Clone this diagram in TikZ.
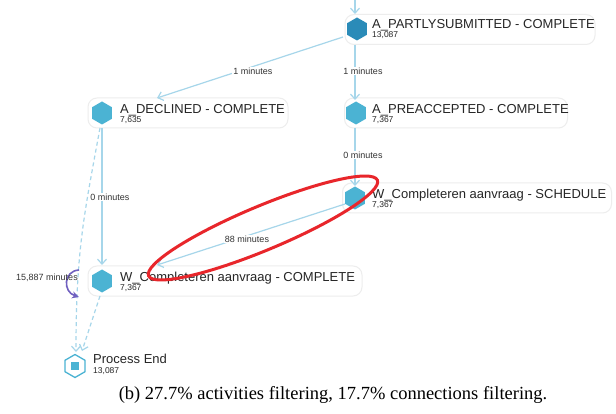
\documentclass[tikz,border=0pt]{standalone}
\usepackage{fontspec}
\setmainfont{Liberation Serif}
\newfontfamily\arialf{Liberation Sans}
\usetikzlibrary{shapes.geometric,arrows.meta}
\definecolor{edgeblue}{HTML}{A6D6EA}
\definecolor{hexblue}{HTML}{4BB3D3}
\definecolor{hexdark}{HTML}{2A8BB8}
\definecolor{loopviolet}{HTML}{7060C0}
\definecolor{markred}{HTML}{E8262B}
\begin{document}
\begin{tikzpicture}[x=1pt,y=-1pt,
  card/.style={draw=black!7, line width=1pt, fill=white, rounded corners=9pt, minimum height=30pt, inner sep=0pt},
  hexa/.style={regular polygon, regular polygon sides=6, shape border rotate=30, fill=hexblue, minimum size=23pt, inner sep=0pt},
  title/.style={anchor=base west, inner sep=0pt, font=\arialf\fontsize{13}{13}\selectfont, text=black!85},
  count/.style={anchor=base west, inner sep=0pt, font=\arialf\fontsize{8.5}{8.5}\selectfont, text=black!85},
  elabel/.style={inner sep=1pt, fill=white, font=\arialf\fontsize{9}{9}\selectfont, text=black!80},
  flow/.style={draw=edgeblue, line width=1.2pt, -{Straight Barb[length=5pt,width=9pt]}},
  dflow/.style={flow, dashed, dash pattern=on 4pt off 3pt},
]
\useasboundingbox[fill=white] (0,0) rectangle (616,414);

% cards
\node[card, minimum width=250pt] (psbox) at (470,29.5) {};
\node[card, minimum width=200pt] (decbox) at (188,113) {};
\node[card, minimum width=223pt] (prebox) at (456,113) {};
\node[card, minimum width=269pt] (schbox) at (477,198) {};
\node[card, minimum width=274pt] (wcobox) at (225,281) {};

% hexagons
\node[hexa, fill=hexdark] (ps) at (357,29) {};
\node[hexa] (dec) at (102,113) {};
\node[hexa] (pre) at (356,113) {};
\node[hexa] (sch) at (355,198) {};
\node[hexa] (wco) at (102,281) {};
\node[hexa, fill=white, draw=hexblue, line width=1.3pt, minimum size=23pt] (pend) at (75,366) {};
\node[fill=hexblue, minimum size=8pt, inner sep=0pt] (pendsq) at (75,366) {};

% texts
\node[title] (pst) at (372,29) {A\_PARTLYSUBMITTED - COMPLETE};
\node[count] (psc) at (372,37.5) {13,087};
\node[title] (dect) at (120,114) {A\_DECLINED - COMPLETE};
\node[count] (decc) at (120,122.5) {7,635};
\node[title] (pret) at (372,114) {A\_PREACCEPTED - COMPLETE};
\node[count] (prec) at (372,122.5) {7,367};
\node[title] (scht) at (372,199) {W\_Completeren aanvraag - SCHEDULE};
\node[count] (schc) at (372,207.5) {7,367};
\node[title] (wcot) at (120,282) {W\_Completeren aanvraag - COMPLETE};
\node[count] (wcoc) at (120,290.5) {7,367};
\node[title] (pendt) at (93,363) {Process End};
\node[count] (pendc) at (93,373.5) {13,087};

% edge end points
\coordinate (top) at (355,0);
\coordinate (psout) at (343,37);
\coordinate (decin) at (157,98);
\coordinate (psdown) at (355,45);
\coordinate (prein) at (355,100);
\coordinate (predown) at (355,128);
\coordinate (schin) at (355,186);
\coordinate (decdown) at (102,128);
\coordinate (wcoin) at (102,265);
\coordinate (schout) at (345,204);
\coordinate (wcoin2) at (157,265);
\coordinate (decdash) at (100,128);
\coordinate (wcodash) at (100,296);
\coordinate (pendinl) at (76,352);
\coordinate (pendinr) at (82,351);

% edges
\draw[flow] (top) -- (355,14);
\draw[flow] (psout) -- (decin);
\node[elabel] (l1) at (253,71) {1 minutes};
\draw[flow] (psdown) -- (prein);
\node[elabel] (l2) at (363,71) {1 minutes};
\draw[flow] (predown) -- (schin);
\node[elabel] (l3) at (363,155) {0 minutes};
\draw[flow] (decdown) -- (wcoin);
\node[elabel] (l4) at (110,197) {0 minutes};
\draw[flow] (schout) -- (wcoin2);
\node[elabel] (l5) at (247,239) {88 minutes};
\draw[dflow] (decdash) .. controls (84,215) and (76,250) .. (pendinl);
\draw[dflow] (wcodash) -- (pendinr);

% self loop
\draw[loopviolet, line width=1.6pt, -{Stealth[length=7pt,width=7pt]}] (79,270) .. controls (63,271) and (63,292) .. (79,297);
\node[elabel, fill=none] (selfl) at (47,278) {15,887 minutes};

% red mark
\draw[markred, line width=3pt, rotate around={22.7:(263,228)}] (263,228) ellipse (124 and 22);

% caption
\node[inner sep=0pt, anchor=base, font=\fontsize{18.5}{18.5}\selectfont] (cap) at (333,399) {(b) 27.7\% activities filtering, 17.7\% connections filtering.};
\end{tikzpicture}
\end{document}
